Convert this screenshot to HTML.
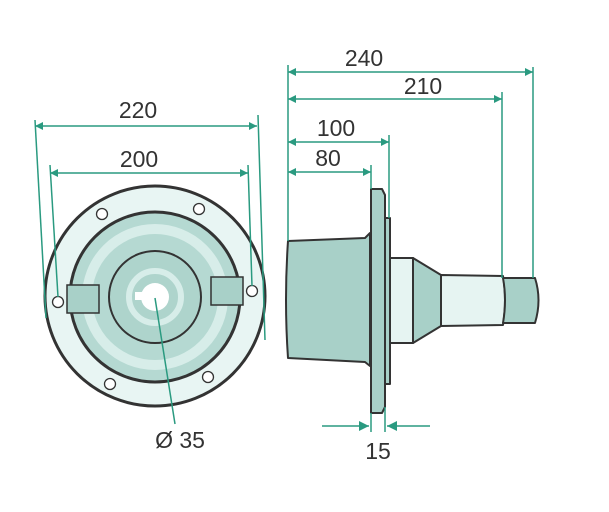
<!DOCTYPE html>
<html><head><style>body{margin:0;background:#fff}svg{display:block}text{font-family:"Liberation Sans",sans-serif;fill:#333;font-size:23px}</style></head><body>
<svg width="609" height="512" viewBox="0 0 609 512">
<defs><marker id="a" viewBox="0 0 10 10" refX="10" refY="5" markerWidth="12" markerHeight="8" orient="auto-start-reverse" markerUnits="userSpaceOnUse"><path d="M0,0L10,5L0,10z" fill="#2a9a80"/></marker>
<marker id="b" viewBox="0 0 10 10" refX="10" refY="5" markerWidth="18" markerHeight="10" orient="auto" markerUnits="userSpaceOnUse"><path d="M0,0L10,5L0,10z" fill="#2a9a80"/></marker></defs>
<g stroke="#333" stroke-width="3">
<circle cx="155" cy="296" r="110" fill="#e8f5f3"/>
<circle cx="155" cy="297" r="85" fill="#b5d9d2"/>
</g>
<circle cx="155" cy="297" r="68" fill="none" stroke="#d7ede9" stroke-width="10"/>
<circle cx="155" cy="297" r="46" fill="#aed4cc" stroke="#333" stroke-width="2"/>
<circle cx="155" cy="297" r="26" fill="none" stroke="#d7ede9" stroke-width="6"/>
<circle cx="155" cy="297" r="14" fill="#fff"/>
<rect x="135" y="292" width="8" height="8" fill="#fff"/>
<g stroke="#333" stroke-width="1.5" fill="#a8d0c8"><rect x="67" y="285" width="32" height="28"/><rect x="211" y="277" width="32" height="28"/></g>
<g stroke="#333" stroke-width="1.3" fill="#fff"><circle cx="102" cy="214" r="5.5"/><circle cx="199" cy="209" r="5.5"/><circle cx="58" cy="302" r="5.5"/><circle cx="252" cy="291" r="5.5"/><circle cx="110" cy="384" r="5.5"/><circle cx="208" cy="377" r="5.5"/></g>
<g stroke="#333" stroke-width="2" stroke-linejoin="round">
<path d="M288,241 L365,238 L370,233 L370,366 L365,362 L288,358 Q284,300 288,241z" fill="#a8d0c8"/>
<path d="M371,189 L382,189 L385,195 L385,407 L382,413 L371,413z" fill="#a8d0c8"/>
<rect x="385" y="218" width="5" height="166" fill="#a8d0c8"/>
<rect x="390" y="258" width="23" height="85" fill="#e6f4f2"/>
<path d="M413,258 L441,275 L441,326 L413,343z" fill="#a8d0c8"/>
<path d="M441,275 L503,276 Q507,300 503,325 L441,326z" fill="#e6f4f2"/>
<path d="M503,278 L535,278 Q542,300 535,323 L503,323 Q507,300 503,278z" fill="#a8d0c8"/>
</g>
<g stroke="#2a9a80" stroke-width="1.5" fill="none">
<line x1="35" y1="126" x2="257" y2="126" marker-start="url(#a)" marker-end="url(#a)"/>
<line x1="50" y1="173" x2="248" y2="173" marker-start="url(#a)" marker-end="url(#a)"/>
<line x1="35" y1="120" x2="46" y2="318"/><line x1="258" y1="115" x2="265" y2="340"/>
<line x1="50" y1="165" x2="58" y2="297"/><line x1="248" y1="165" x2="252" y2="286"/>
<line x1="155" y1="298" x2="175" y2="424"/>
<line x1="288" y1="72" x2="533" y2="72" marker-start="url(#a)" marker-end="url(#a)"/>
<line x1="288" y1="99" x2="502" y2="99" marker-start="url(#a)" marker-end="url(#a)"/>
<line x1="288" y1="142" x2="389" y2="142" marker-start="url(#a)" marker-end="url(#a)"/>
<line x1="288" y1="172" x2="371" y2="172" marker-start="url(#a)" marker-end="url(#a)"/>
<line x1="288" y1="65" x2="288" y2="241"/><line x1="533" y1="67" x2="533" y2="278"/>
<line x1="502" y1="92" x2="502" y2="278"/><line x1="389" y1="135" x2="389" y2="218"/>
<line x1="371" y1="165" x2="371" y2="189"/>
<line x1="371" y1="413" x2="371" y2="432"/><line x1="385" y1="407" x2="385" y2="432"/>
<line x1="322" y1="426" x2="369" y2="426" marker-end="url(#b)"/>
<line x1="430" y1="426" x2="387" y2="426" marker-end="url(#b)"/>
</g>
<text x="138" y="118" text-anchor="middle">220</text>
<text x="139" y="167" text-anchor="middle">200</text>
<text x="180" y="448" text-anchor="middle">Ø 35</text>
<text x="364" y="66" text-anchor="middle">240</text>
<text x="423" y="94" text-anchor="middle">210</text>
<text x="336" y="136" text-anchor="middle">100</text>
<text x="328" y="166" text-anchor="middle">80</text>
<text x="378" y="459" text-anchor="middle">15</text>
</svg></body></html>
